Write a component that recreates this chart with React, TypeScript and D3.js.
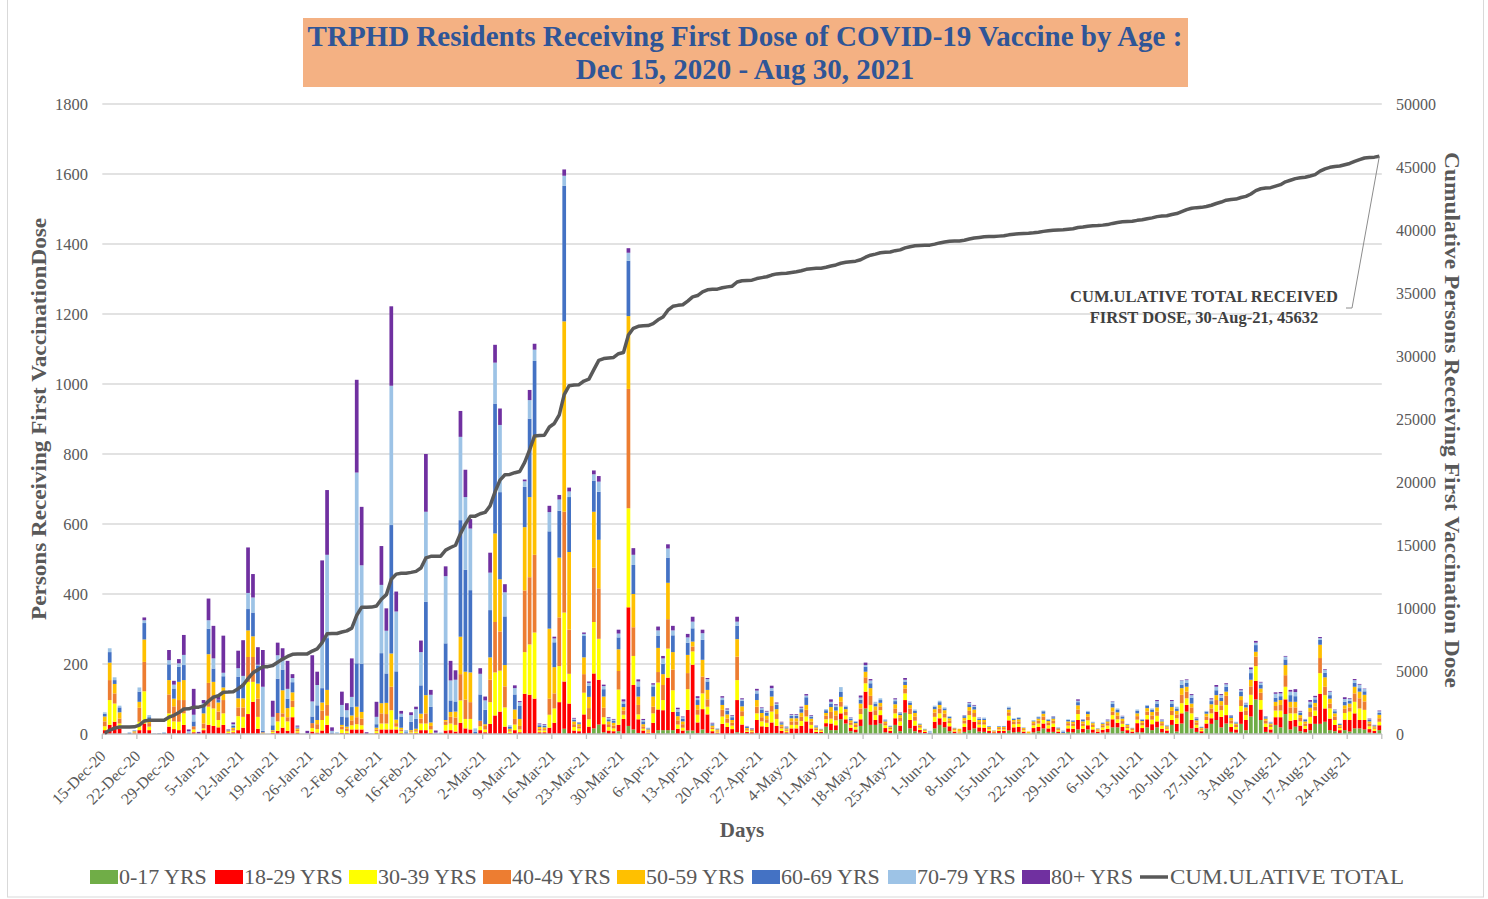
import React from "react";
import * as d3 from "d3";

// daily first doses by age group, 15-Dec-20 .. 30-Aug-21 (259 days)
const age0to17 = [
  0, 0, 0, 0, 0, 0, 0, 0, 0, 0,
  0, 0, 0, 0, 0, 0, 0, 0, 0, 0,
  0, 0, 0, 0, 0, 0, 0, 0, 0, 0,
  0, 0, 0, 0, 0, 0, 0, 0, 0, 0,
  0, 0, 0, 0, 0, 0, 0, 0, 0, 0,
  0, 0, 0, 0, 0, 0, 0, 0, 0, 0,
  0, 0, 0, 0, 0, 0, 0, 0, 0, 0,
  0, 0, 0, 0, 0, 0, 0, 0, 0, 0,
  0, 0, 0, 0, 0, 0, 0, 0, 0, 0,
  0, 0, 0, 15, 0, 0, 0, 0, 3, 16,
  27, 5, 0, 0, 8, 0, 23, 13, 3, 0,
  0, 3, 11, 11, 11, 11, 0, 0, 10, 10,
  3, 13, 3, 0, 0, 0, 0, 0, 5, 3,
  0, 0, 3, 2, 2, 3, 3, 0, 0, 2,
  2, 3, 3, 2, 0, 3, 21, 11, 11, 42,
  30, 8, 5, 23, 73, 26, 26, 30, 5, 3,
  26, 8, 61, 16, 8, 4, 2, 0, 16, 26,
  19, 8, 2, 0, 6, 11, 16, 7, 6, 3,
  2, 3, 3, 10, 5, 6, 2, 0, 5, 8,
  16, 6, 6, 2, 0, 6, 5, 13, 5, 13,
  4, 2, 4, 5, 19, 19, 8, 3, 2, 5,
  5, 19, 11, 19, 5, 3, 26, 7, 30, 64,
  16, 6, 2, 16, 29, 40, 19, 30, 6, 4,
  29, 11, 50, 99, 40, 6, 4, 26, 19, 57,
  13, 21, 8, 5, 11, 29, 29, 35, 11, 8,
  3, 11, 7, 16, 16, 13, 4, 2, 11,
];

const age18to29 = [
  11, 26, 35, 16, 0, 0, 2, 11, 30, 11,
  0, 0, 0, 21, 14, 11, 26, 0, 5, 0,
  11, 26, 23, 19, 26, 3, 5, 11, 18, 57,
  92, 15, 1, 0, 3, 9, 18, 9, 48, 4,
  0, 0, 7, 4, 10, 26, 0, 0, 3, 3,
  13, 13, 13, 0, 0, 3, 13, 13, 13, 13,
  3, 0, 2, 3, 11, 11, 3, 0, 0, 10,
  11, 7, 32, 16, 13, 0, 11, 5, 29, 53,
  64, 21, 3, 11, 5, 115, 112, 101, 5, 5,
  18, 32, 91, 135, 87, 10, 8, 56, 18, 157,
  128, 23, 10, 8, 18, 43, 339, 127, 39, 10,
  4, 29, 59, 57, 150, 52, 15, 10, 59, 188,
  30, 58, 53, 8, 4, 29, 20, 14, 92, 24,
  6, 5, 37, 20, 18, 30, 20, 9, 5, 14,
  14, 20, 33, 14, 6, 3, 10, 19, 14, 17,
  12, 10, 8, 19, 48, 38, 14, 24, 12, 6,
  19, 16, 36, 24, 16, 8, 4, 0, 19, 19,
  16, 14, 5, 0, 14, 29, 19, 12, 12, 6,
  3, 6, 6, 29, 14, 14, 5, 0, 12, 12,
  14, 10, 14, 5, 0, 10, 10, 27, 10, 12,
  9, 5, 8, 10, 23, 13, 12, 8, 5, 26,
  12, 23, 17, 17, 10, 7, 14, 22, 29, 19,
  24, 12, 6, 14, 16, 24, 30, 24, 14, 9,
  35, 29, 33, 53, 30, 14, 9, 22, 29, 42,
  25, 19, 16, 10, 19, 23, 86, 38, 33, 18,
  8, 30, 33, 43, 24, 27, 10, 7, 14,
];

const age30to39 = [
  11, 71, 52, 14, 0, 0, 2, 24, 92, 10,
  0, 0, 0, 38, 22, 24, 33, 0, 8, 0,
  5, 52, 50, 21, 33, 3, 5, 40, 31, 92,
  57, 34, 2, 0, 3, 27, 31, 27, 29, 4,
  0, 0, 10, 10, 30, 26, 0, 0, 10, 5,
  12, 15, 12, 0, 0, 5, 17, 17, 55, 8,
  5, 0, 3, 4, 19, 19, 10, 0, 0, 16,
  19, 19, 64, 27, 30, 0, 11, 8, 62, 123,
  117, 55, 4, 16, 8, 119, 144, 189, 5, 5,
  37, 41, 103, 197, 85, 10, 8, 62, 21, 147,
  117, 20, 10, 8, 101, 12, 283, 83, 14, 5,
  3, 27, 77, 29, 83, 62, 12, 8, 59, 38,
  22, 45, 22, 6, 3, 21, 12, 10, 57, 24,
  4, 3, 19, 14, 12, 31, 20, 7, 4, 10,
  10, 14, 14, 10, 5, 3, 11, 14, 14, 19,
  11, 8, 7, 15, 24, 19, 14, 14, 8, 5,
  14, 12, 19, 17, 14, 6, 3, 0, 14, 14,
  12, 9, 4, 4, 10, 14, 14, 8, 9, 5,
  2, 4, 4, 13, 9, 9, 4, 3, 8, 10,
  10, 9, 10, 4, 0, 8, 8, 17, 8, 14,
  7, 3, 7, 9, 12, 10, 9, 6, 4, 10,
  8, 12, 13, 16, 9, 5, 14, 16, 29, 19,
  19, 8, 4, 10, 14, 19, 19, 29, 10, 7,
  16, 14, 29, 42, 27, 10, 7, 19, 19, 36,
  21, 19, 12, 8, 19, 15, 59, 38, 29, 14,
  6, 19, 24, 33, 33, 29, 8, 6, 10,
];

const age40to49 = [
  14, 57, 29, 14, 0, 0, 2, 40, 84, 10,
  0, 0, 0, 54, 43, 62, 38, 0, 9, 0,
  14, 68, 38, 24, 38, 2, 4, 25, 27, 71,
  71, 52, 2, 0, 3, 24, 10, 12, 18, 4,
  0, 0, 14, 14, 27, 31, 0, 0, 8, 8,
  14, 20, 19, 0, 0, 5, 29, 27, 67, 10,
  5, 0, 3, 4, 14, 29, 10, 0, 0, 10,
  19, 21, 75, 55, 48, 0, 16, 10, 64, 144,
  112, 60, 4, 16, 10, 176, 192, 222, 5, 4,
  46, 43, 139, 288, 126, 8, 6, 53, 32, 155,
  144, 27, 8, 8, 53, 12, 341, 82, 27, 7,
  3, 19, 30, 43, 84, 59, 12, 10, 46, 14,
  14, 48, 21, 5, 3, 19, 12, 8, 67, 14,
  4, 3, 19, 12, 10, 16, 14, 6, 4, 10,
  10, 12, 19, 9, 4, 2, 10, 19, 14, 14,
  10, 7, 6, 16, 17, 26, 14, 11, 6, 4,
  14, 10, 14, 16, 12, 5, 2, 0, 12, 14,
  11, 8, 3, 3, 8, 12, 11, 7, 7, 3,
  2, 4, 4, 10, 7, 7, 3, 0, 6, 8,
  10, 7, 8, 3, 0, 7, 7, 13, 7, 10,
  6, 3, 6, 7, 10, 10, 8, 5, 3, 10,
  7, 10, 12, 12, 7, 4, 12, 11, 24, 19,
  17, 7, 3, 10, 14, 14, 14, 26, 9, 6,
  17, 12, 24, 27, 21, 8, 6, 13, 16, 33,
  17, 17, 10, 7, 14, 11, 43, 24, 14, 10,
  5, 12, 12, 24, 29, 24, 8, 4, 10,
];

const age50to59 = [
  14, 50, 27, 18, 0, 0, 2, 17, 64, 8,
  0, 0, 0, 41, 22, 52, 57, 0, 0, 0,
  29, 82, 38, 26, 36, 2, 4, 26, 26, 76,
  59, 43, 0, 0, 2, 0, 66, 26, 24, 4,
  0, 0, 0, 12, 23, 43, 0, 0, 5, 5,
  14, 30, 19, 0, 0, 5, 29, 32, 95, 10,
  5, 0, 3, 4, 14, 52, 10, 0, 0, 4,
  14, 17, 107, 80, 85, 0, 0, 5, 64, 253,
  149, 61, 4, 27, 20, 181, 229, 341, 5, 5,
  200, 75, 171, 544, 222, 8, 6, 48, 32, 160,
  139, 32, 8, 8, 62, 10, 208, 95, 24, 6,
  3, 29, 69, 31, 104, 50, 12, 8, 52, 14,
  14, 48, 27, 5, 3, 14, 12, 8, 50, 14,
  3, 2, 19, 12, 10, 27, 14, 5, 3, 9,
  9, 12, 14, 9, 4, 2, 8, 14, 14, 14,
  8, 6, 5, 14, 16, 22, 11, 10, 5, 3,
  12, 8, 10, 10, 10, 4, 2, 0, 10, 10,
  10, 6, 2, 8, 8, 11, 10, 6, 6, 3,
  1, 3, 3, 8, 5, 6, 3, 4, 5, 6,
  8, 5, 6, 2, 3, 5, 5, 12, 6, 8,
  5, 2, 4, 5, 12, 10, 7, 4, 2, 8,
  5, 10, 10, 12, 5, 3, 11, 10, 19, 14,
  11, 6, 3, 8, 12, 14, 12, 12, 7, 4,
  11, 10, 19, 14, 12, 6, 4, 12, 14, 29,
  16, 16, 8, 6, 12, 11, 38, 27, 14, 9,
  4, 10, 11, 19, 19, 19, 6, 3, 10,
];

const age60to69 = [
  8, 30, 11, 14, 0, 3, 2, 29, 47, 9,
  0, 2, 3, 45, 29, 43, 43, 4, 14, 0,
  19, 73, 38, 8, 32, 2, 5, 62, 43, 61,
  68, 52, 4, 0, 14, 98, 59, 27, 29, 3,
  0, 0, 19, 42, 41, 148, 4, 0, 24, 27,
  24, 124, 138, 0, 0, 10, 143, 84, 367, 138,
  32, 5, 24, 28, 81, 267, 45, 0, 0, 219,
  33, 29, 333, 291, 235, 6, 75, 41, 135, 371,
  249, 139, 5, 43, 37, 115, 224, 213, 5, 4,
  278, 71, 134, 387, 157, 5, 3, 61, 32, 89,
  137, 21, 6, 6, 34, 10, 158, 83, 29, 8,
  3, 29, 34, 29, 72, 48, 12, 8, 35, 38,
  14, 57, 24, 4, 2, 14, 10, 8, 38, 16,
  3, 2, 19, 10, 9, 17, 12, 4, 3, 7,
  7, 10, 22, 6, 3, 1, 8, 10, 10, 14,
  7, 5, 4, 11, 14, 14, 8, 8, 3, 2,
  9, 5, 10, 7, 6, 2, 1, 4, 7, 8,
  5, 4, 1, 0, 5, 8, 8, 4, 4, 2,
  0, 2, 2, 5, 3, 4, 1, 0, 2, 4,
  7, 4, 4, 2, 3, 4, 3, 9, 4, 6,
  2, 1, 2, 3, 10, 8, 5, 2, 1, 7,
  4, 7, 7, 11, 3, 2, 10, 7, 10, 11,
  17, 4, 2, 6, 9, 14, 10, 14, 5, 3,
  12, 7, 19, 19, 10, 4, 3, 12, 11, 16,
  19, 16, 6, 4, 10, 10, 14, 13, 10, 6,
  3, 10, 8, 11, 10, 10, 4, 2, 5,
];

const age70to79 = [
  4, 11, 8, 5, 0, 2, 1, 12, 8, 6,
  2, 0, 2, 12, 11, 10, 29, 4, 19, 0,
  10, 24, 29, 0, 10, 1, 5, 24, 21, 46,
  43, 2, 126, 0, 24, 67, 27, 28, 12, 2,
  0, 2, 43, 58, 129, 238, 5, 5, 33, 20,
  29, 545, 281, 0, 2, 21, 195, 122, 398, 171,
  8, 6, 19, 28, 95, 257, 34, 4, 4, 192,
  57, 62, 238, 208, 176, 10, 59, 27, 107, 117,
  192, 69, 5, 18, 11, 16, 53, 32, 3, 3,
  55, 11, 32, 29, 16, 3, 2, 6, 8, 18,
  29, 9, 4, 3, 11, 6, 23, 29, 14, 4,
  2, 5, 16, 16, 26, 14, 8, 4, 15, 19,
  6, 19, 7, 2, 1, 7, 4, 4, 12, 4,
  2, 1, 8, 4, 3, 7, 4, 2, 1, 3,
  3, 4, 5, 2, 1, 1, 3, 5, 5, 14,
  3, 3, 2, 6, 5, 8, 5, 5, 3, 1,
  5, 2, 5, 4, 4, 1, 1, 5, 3, 4,
  3, 2, 1, 0, 2, 4, 3, 2, 3, 1,
  1, 1, 1, 3, 2, 2, 1, 0, 2, 2,
  2, 2, 2, 1, 4, 2, 2, 4, 1, 3,
  2, 0, 2, 2, 7, 3, 2, 1, 1, 4,
  2, 2, 3, 7, 2, 2, 7, 5, 12, 8,
  7, 2, 1, 2, 5, 10, 7, 7, 2, 2,
  5, 5, 11, 7, 7, 2, 2, 11, 8, 8,
  10, 12, 4, 2, 7, 6, 5, 8, 10, 4,
  1, 8, 5, 8, 10, 7, 2, 1, 5,
];

const age80plus = [
  0, 0, 0, 0, 0, 0, 0, 0, 8, 0,
  0, 0, 0, 29, 11, 12, 57, 5, 74, 6,
  9, 62, 93, 9, 106, 1, 5, 50, 102, 130,
  67, 50, 105, 0, 46, 36, 34, 80, 11, 3,
  0, 7, 132, 38, 236, 185, 10, 0, 38, 20,
  110, 265, 167, 5, 0, 43, 111, 64, 227, 57,
  8, 0, 8, 7, 33, 165, 14, 6, 0, 28,
  56, 27, 74, 78, 27, 0, 16, 11, 57, 51,
  47, 23, 0, 8, 3, 5, 29, 17, 2, 2,
  18, 5, 13, 18, 11, 2, 1, 4, 4, 11,
  16, 4, 2, 2, 11, 6, 13, 19, 6, 3,
  0, 4, 11, 7, 12, 13, 4, 2, 10, 14,
  5, 10, 3, 2, 0, 4, 3, 2, 14, 3,
  1, 1, 5, 2, 2, 7, 3, 2, 1, 2,
  2, 3, 4, 2, 1, 0, 0, 7, 3, 0,
  0, 1, 0, 6, 7, 4, 0, 0, 0, 0,
  3, 1, 5, 0, 0, 0, 0, 0, 0, 0,
  0, 0, 0, 0, 1, 2, 2, 1, 0, 0,
  0, 0, 0, 0, 0, 0, 0, 0, 0, 0,
  0, 0, 1, 0, 0, 0, 0, 4, 1, 0,
  0, 0, 0, 1, 1, 0, 1, 0, 0, 0,
  0, 0, 0, 3, 1, 0, 3, 0, 1, 2,
  3, 2, 0, 0, 3, 5, 3, 3, 1, 0,
  3, 1, 5, 5, 2, 1, 0, 4, 4, 2,
  5, 8, 2, 1, 5, 4, 3, 2, 2, 1,
  0, 5, 2, 3, 2, 1, 2, 1, 2,
];

const ageGroups = ["0-17 YRS", "18-29 YRS", "30-39 YRS", "40-49 YRS", "50-59 YRS", "60-69 YRS", "70-79 YRS", "80+ YRS"];
const ageColors = ["#70AD47", "#FF0000", "#FFFF00", "#ED7D31", "#FFC000", "#4472C4", "#9DC3E6", "#7030A0"];
const seriesValues = [age0to17, age18to29, age30to39, age40to49, age50to59, age60to69, age70to79, age80plus];

// every 7th day gets a label
const weekLabels = [
  "15-Dec-20", "22-Dec-20", "29-Dec-20", "5-Jan-21", "12-Jan-21", "19-Jan-21", "26-Jan-21",
  "2-Feb-21", "9-Feb-21", "16-Feb-21", "23-Feb-21", "2-Mar-21", "9-Mar-21", "16-Mar-21",
  "23-Mar-21", "30-Mar-21", "6-Apr-21", "13-Apr-21", "20-Apr-21", "27-Apr-21", "4-May-21",
  "11-May-21", "18-May-21", "25-May-21", "1-Jun-21", "8-Jun-21", "15-Jun-21", "22-Jun-21",
  "29-Jun-21", "6-Jul-21", "13-Jul-21", "20-Jul-21", "27-Jul-21", "3-Aug-21", "10-Aug-21",
  "17-Aug-21", "24-Aug-21",
];

const leftTicks = [0, 200, 400, 600, 800, 1000, 1200, 1400, 1600, 1800];
const rightTicks = [0, 5000, 10000, 15000, 20000, 25000, 30000, 35000, 40000, 45000, 50000];

const FONT = '"Palatino Linotype", "Book Antiqua", Palatino, "Liberation Serif", serif';
const GREY = "#595959";

export default function App() {
  const n = age0to17.length;
  const days = d3.range(n);
  const left = 102.3, right = 1381.8, top = 104, bottom = 734;

  const x = d3.scaleBand<number>().domain(days).range([left, right]).paddingInner(0.25).paddingOuter(0.125);
  const step = (right - left) / n;
  const cx = (i: number) => (x(i) ?? 0) + x.bandwidth() / 2;
  const yL = d3.scaleLinear().domain([0, 1800]).range([bottom, top]);
  const yR = d3.scaleLinear().domain([0, 50000]).range([bottom, top]);

  const keys = ageGroups;
  const rows = days.map((i) => {
    const r: Record<string, number> = {};
    keys.forEach((k, j) => (r[k] = seriesValues[j][i] ?? 0));
    return r;
  });
  const stacked = d3.stack<Record<string, number>>().keys(keys)(rows);
  const totals = days.map((i) => d3.sum(seriesValues, (s) => s[i] ?? 0));
  const cumulative = Array.from(d3.cumsum(totals));
  const cumPath = d3.line<number>().x((_, i) => cx(i)).y((d) => yR(d))(cumulative) ?? "";

  const legendX = [90, 215, 349, 483, 617, 752, 888, 1022];
  const lastX = cx(n - 1), lastY = yR(cumulative[n - 1]);

  return (
    <div style={{ position: "absolute", left: 0, top: 0 }}>
      <svg width={1488} height={899} style={{ display: "block", fontFamily: FONT }}>
        <rect x={0} y={0} width={1488} height={899} fill="#fff" />
        <rect x={7.5} y={-2} width={1476} height={899} fill="none" stroke="#d9d9d9" />

        <rect x={303} y={18} width={885} height={69} fill="#F4B183" />
        <text x={745} y={46} textAnchor="middle" fontSize={29} fontWeight="bold" fill="#2F5597">
          TRPHD Residents Receiving First Dose of COVID-19 Vaccine by Age :
        </text>
        <text x={745} y={79} textAnchor="middle" fontSize={29} fontWeight="bold" fill="#2F5597">
          Dec 15, 2020 - Aug 30, 2021
        </text>

        {leftTicks.slice(1).map((t) => (
          <line key={t} x1={left} x2={right} y1={yL(t)} y2={yL(t)} stroke="#d9d9d9" strokeWidth={1.3} />
        ))}

        {stacked.map((layer, j) => (
          <g key={layer.key} fill={ageColors[j]}>
            {layer.map((d, i) =>
              d[1] > d[0] ? (
                <rect key={i} x={x(i)} y={yL(d[1])} width={x.bandwidth()} height={yL(d[0]) - yL(d[1])} />
              ) : null
            )}
          </g>
        ))}

        <line x1={left} x2={right} y1={bottom} y2={bottom} stroke="#bfbfbf" strokeWidth={1.3} />
        {d3.range(0, n + 1, 7).concat(n % 7 ? [n] : []).map((k) => (
          <line key={k} x1={left + k * step} x2={left + k * step} y1={bottom} y2={bottom + 5} stroke="#bfbfbf" strokeWidth={1.3} />
        ))}

        <path d={cumPath} fill="none" stroke="#595959" strokeWidth={3.5} strokeLinejoin="round" />

        {leftTicks.map((t) => (
          <text key={t} x={88} y={yL(t) + 5.5} textAnchor="end" fontSize={16.5} fill={GREY}>{t}</text>
        ))}
        {rightTicks.map((t) => (
          <text key={t} x={1396} y={yR(t) + 5.5} textAnchor="start" fontSize={16} fill={GREY}>{t}</text>
        ))}

        {weekLabels.map((lab, k) => (
          <text key={lab} transform={`translate(${cx(k * 7) + 2},${bottom + 23}) rotate(-45)`} textAnchor="end" fontSize={16} fill={GREY}>
            {lab}
          </text>
        ))}

        <text transform={`translate(46,419) rotate(-90)`} textAnchor="middle" fontSize={21} fontWeight="bold" fill={GREY}
          textLength={402} lengthAdjust="spacingAndGlyphs">
          Persons Receiving First VaccinationDose
        </text>
        <text transform={`translate(1445,420) rotate(90)`} textAnchor="middle" fontSize={21} fontWeight="bold" fill={GREY}
          textLength={536} lengthAdjust="spacingAndGlyphs">
          Cumulative Persons Receiving First Vaccination Dose
        </text>
        <text x={742} y={837} textAnchor="middle" fontSize={21} fontWeight="bold" fill={GREY}>Days</text>

        <polyline points={`1346,308 1352,308 ${lastX},${lastY}`} fill="none" stroke="#8c8c8c" strokeWidth={1} />
        <text x={1204} y={302} textAnchor="middle" fontSize={16.5} fontWeight="bold" fill="#404040">
          CUM.ULATIVE TOTAL RECEIVED
        </text>
        <text x={1204} y={323} textAnchor="middle" fontSize={16.5} fontWeight="bold" fill="#404040">
          FIRST DOSE, 30-Aug-21, 45632
        </text>

        {ageGroups.map((g, j) => (
          <g key={g}>
            <rect x={legendX[j]} y={870} width={28} height={14} fill={ageColors[j]} />
            <text x={legendX[j] + 29} y={884} fontSize={22} fill={GREY}>{g}</text>
          </g>
        ))}
        <line x1={1140} x2={1168} y1={877} y2={877} stroke="#595959" strokeWidth={3.5} />
        <text x={1170} y={884} fontSize={22} fill={GREY} textLength={234} lengthAdjust="spacingAndGlyphs">CUM.ULATIVE TOTAL</text>
      </svg>
    </div>
  );
}
